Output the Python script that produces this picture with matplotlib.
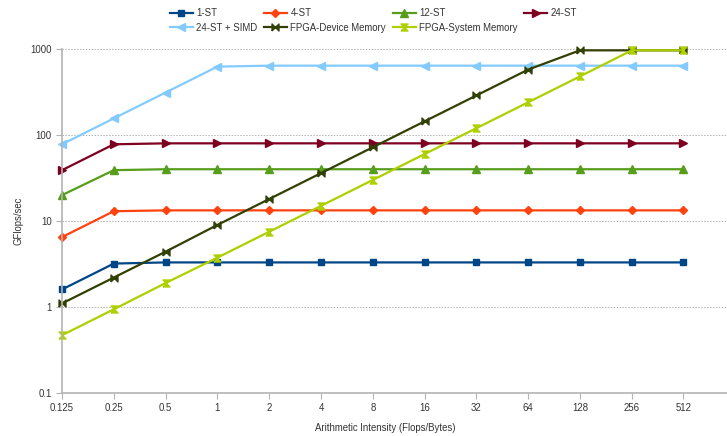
import matplotlib
matplotlib.use("Agg")
import matplotlib.pyplot as plt
import numpy as np

plt.rcParams['font.family'] = ['Liberation Sans', 'DejaVu Sans']

# x categories (Flops/Bytes)
intensity = ['0.125', '0.25', '0.5', '1', '2', '4', '8', '16', '32', '64', '128', '256', '512']

# GFlops/sec per configuration
st1 = [1.6, 3.2, 3.3, 3.3, 3.3, 3.3, 3.3, 3.3, 3.3, 3.3, 3.3, 3.3, 3.3]
st4 = [6.5, 13, 13.3, 13.3, 13.3, 13.3, 13.3, 13.3, 13.3, 13.3, 13.3, 13.3, 13.3]
st12 = [20, 39, 40, 40, 40, 40, 40, 40, 40, 40, 40, 40, 40]
st24 = [39, 78, 80, 80, 80, 80, 80, 80, 80, 80, 80, 80, 80]
st24_simd = [78, 156, 312, 624, 640, 640, 640, 640, 640, 640, 640, 640, 640]
fpga_dev = [1.1, 2.2, 4.4, 9, 18, 36, 72, 144, 288, 576, 965, 965, 965]
fpga_sys = [0.47, 0.94, 1.9, 3.75, 7.5, 15, 30, 60, 120, 240, 480, 965, 965]

bowtie = [(-1, -1), (1, 1), (1, -1), (-1, 1), (-1, -1)]
hourglass = [(-1, -1), (1, -1), (-1, 1), (1, 1), (-1, -1)]

series = [
    ('1-ST', st1, '#004586', 's', 5),
    ('4-ST', st4, '#ff420e', 'D', 3.8),
    ('12-ST', st12, '#579d1c', '^', 5.2),
    ('24-ST', st24, '#7e0021', '>', 5.2),
    ('24-ST + SIMD', st24_simd, '#83caff', '<', 5.2),
    ('FPGA-Device Memory', fpga_dev, '#314004', bowtie, 5),
    ('FPGA-System Memory', fpga_sys, '#aecf00', hourglass, 5),
]

fs = 6.9

fig = plt.figure(figsize=(7.27, 4.36), dpi=100)
ax = fig.add_axes([0.0853, 0.0986, 0.9147, 0.789])

x = np.arange(len(intensity))
lines = []
for name, vals, col, mk, ms in series:
    ln, = ax.plot(x, vals, color=col, lw=1.6, marker=mk, markersize=ms,
                  markeredgecolor=col, markerfacecolor=col, label=name, clip_on=False)
    lines.append(ln)

ax.set_yscale('log')
ax.set_ylim(0.1, 1000)
ax.set_xlim(0, 12.84)
ax.set_yticks([0.1, 1, 10, 100, 1000])
ax.set_yticklabels(['0.1', '1', '10', '100', '1000'])
ax.yaxis.set_minor_locator(matplotlib.ticker.NullLocator())
ax.set_xticks(x)
ax.set_xticklabels(intensity)
ax.tick_params(labelsize=fs, colors='#b3b3b3', labelcolor='#333333', length=4, width=0.8)
ax.grid(axis='y', which='major', color='#b3b3b3', linestyle=(0, (1.5, 1.5)), linewidth=0.7)
ax.set_axisbelow(True)
for s in ['top', 'right']:
    ax.spines[s].set_visible(False)
for s in ['left', 'bottom']:
    ax.spines[s].set_color('#b3b3b3')
    ax.spines[s].set_linewidth(1.2)

ax.set_ylabel('GFlops/sec', fontsize=fs, color='#333333')
ax.set_xlabel('Arithmetic Intensity (Flops/Bytes)', fontsize=fs, color='#333333')
ax.yaxis.set_label_coords(-0.066, 0.5)
ax.xaxis.set_label_coords(0.486, -0.101)
ax.xaxis.label.set_va('center')
ax.yaxis.label.set_va('center')

# legend is filled column by column, so interleave to get row order
order = [0, 4, 1, 5, 2, 6, 3]
leg = fig.legend([lines[i] for i in order], [series[i][0] for i in order],
                 loc='upper left', bbox_to_anchor=(0.228, 0.99), ncol=4, frameon=False,
                 fontsize=fs, handlelength=2.4, handletextpad=0.35, columnspacing=0.7,
                 labelspacing=0.45, borderaxespad=0)
for t in leg.get_texts():
    t.set_color('#333333')

fig.savefig('out.png', dpi=100)
